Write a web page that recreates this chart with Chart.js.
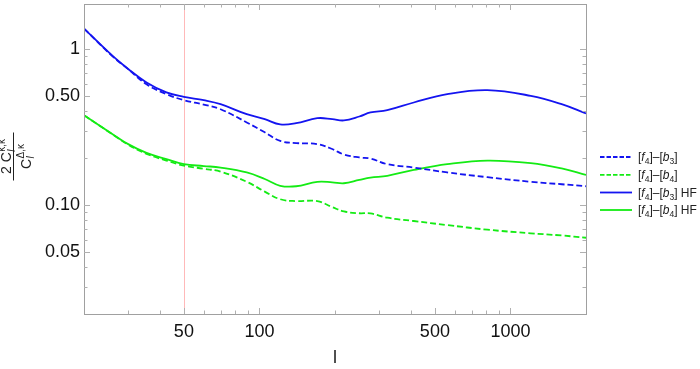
<html>
<head>
  <title>Ratio of spectra</title>
  <script src="https://cdn.jsdelivr.net/npm/chart.js"></script>
  <style>
    body { margin: 0; background: #fff; }
    #wrap { width: 700px; height: 369px; }
  </style>
</head>
<body>
  <div id="wrap"><canvas id="myChart" width="700" height="369"></canvas></div>

  <script>
    var ell = [20, 26, 30, 35.5, 42.6, 50, 60, 70, 89, 105, 121, 140, 170, 195, 217, 250, 277, 323, 412, 560, 809, 1205, 1600, 2000];

    var blueDashed = [1.357, 0.90, 0.745, 0.595, 0.515, 0.471, 0.441, 0.412, 0.339, 0.293, 0.258, 0.25, 0.246, 0.229, 0.211, 0.202, 0.199, 0.183, 0.174, 0.162, 0.151, 0.141, 0.136, 0.132];
    var greenDashed = [0.377, 0.284, 0.244, 0.213, 0.193, 0.179, 0.171, 0.164, 0.141, 0.122, 0.109, 0.106, 0.106, 0.097, 0.091, 0.0886, 0.0885, 0.083, 0.079, 0.0744, 0.0695, 0.0659, 0.0638, 0.0617];
    var blueHF = [1.357, 0.906, 0.747, 0.612, 0.528, 0.495, 0.471, 0.444, 0.383, 0.356, 0.329, 0.335, 0.361, 0.356, 0.349, 0.370, 0.393, 0.406, 0.455, 0.515, 0.546, 0.502, 0.444, 0.387];
    var greenHF = [0.377, 0.285, 0.246, 0.216, 0.197, 0.183, 0.178, 0.174, 0.162, 0.147, 0.133, 0.132, 0.141, 0.140, 0.138, 0.145, 0.150, 0.154, 0.168, 0.183, 0.193, 0.186, 0.172, 0.156];

    // legend entries: b index and HF flag
    var legendB = ["3", "4", "3", "4"];
    var legendHF = [false, false, true, true];

    // ticks
    var xMajor = [50, 100, 500, 1000];
    var xMajorLabels = ["50", "100", "500", "1000"];
    var xMinor = [30, 40, 60, 70, 80, 90, 200, 300, 400, 600, 700, 800, 900];
    var yMajor = [0.05, 0.1, 0.5, 1];
    var yMajorLabels = ["0.05", "0.10", "0.50", "1"];
    var yMinor = [0.03, 0.04, 0.06, 0.07, 0.08, 0.09, 0.2, 0.3, 0.4, 0.6, 0.7, 0.8, 0.9];

    var markerEll = 50;

    var BLUE = "rgb(20,20,240)";
    var GREEN = "rgb(20,235,20)";
    var FONT = "'Liberation Sans', Arial, sans-serif";

    function pts(arr) {
      return ell.map(function (x, i) { return { x: x, y: arr[i] }; });
    }

    function makeSet(arr, color, dashed) {
      return {
        data: pts(arr),
        borderColor: color,
        borderWidth: 1.8,
        borderDash: dashed ? [6, 3] : [],
        pointRadius: 0,
        fill: false,
        tension: 0.4
      };
    }

    // draw text with stacked sub/superscript, returns width
    function mathPiece(ctx, x, y, main, sub, sup, size, italicSub) {
      ctx.font = size + "px " + FONT;
      ctx.fillText(main, x, y);
      var w = ctx.measureText(main).width;
      var s = Math.round(size * 0.7);
      ctx.font = (italicSub ? "italic " : "") + s + "px " + FONT;
      var ws = sub ? ctx.measureText(sub).width : 0;
      if (sub) ctx.fillText(sub, x + w + 0.5, y + size * 0.25);
      ctx.font = s + "px " + FONT;
      var wp = sup ? ctx.measureText(sup).width : 0;
      if (sup) ctx.fillText(sup, x + w + 0.5, y - size * 0.45);
      return w + 0.5 + Math.max(ws, wp);
    }

    function measurePiece(ctx, main, sub, sup, size, italicSub) {
      ctx.font = size + "px " + FONT;
      var w = ctx.measureText(main).width;
      var s = Math.round(size * 0.7);
      ctx.font = (italicSub ? "italic " : "") + s + "px " + FONT;
      var ws = sub ? ctx.measureText(sub).width : 0;
      ctx.font = s + "px " + FONT;
      var wp = sup ? ctx.measureText(sup).width : 0;
      return w + 0.5 + Math.max(ws, wp);
    }

    function legendText(ctx, x, y, b, hf) {
      var size = 12;
      var parts = [
        ["[", ""], ["f", "i"], ["4", "s"], ["]\u2013[", ""], ["b", "i"], [b, "s"], ["]", ""]
      ];
      if (hf) parts.push([" HF", ""]);
      parts.forEach(function (p) {
        if (p[1] === "i") {
          ctx.font = "italic " + size + "px " + FONT;
          ctx.fillText(p[0], x, y);
        } else if (p[1] === "s") {
          ctx.font = "8.5px " + FONT;
          ctx.fillText(p[0], x, y + 3);
        } else {
          ctx.font = size + "px " + FONT;
          ctx.fillText(p[0], x, y);
        }
        x += ctx.measureText(p[0]).width;
      });
    }

    function noPad(s) {
      s.paddingTop = 0; s.paddingBottom = 0; s.paddingLeft = 0; s.paddingRight = 0;
    }

    var decor = {
      id: "decor",
      beforeDatasetsDraw: function (chart) {
        var ctx = chart.ctx, a = chart.chartArea;
        var px = chart.scales.x.getPixelForValue(markerEll);
        ctx.save();
        ctx.strokeStyle = "rgb(255,185,185)";
        ctx.lineWidth = 1;
        ctx.beginPath();
        ctx.moveTo(Math.round(px) + 0.5, a.top);
        ctx.lineTo(Math.round(px) + 0.5, a.bottom);
        ctx.stroke();
        ctx.restore();
      },
      afterDraw: function (chart) {
        var ctx = chart.ctx, a = chart.chartArea;
        var xs = chart.scales.x, ys = chart.scales.y;
        ctx.save();
        // frame
        ctx.strokeStyle = "#a0a0a0";
        ctx.lineWidth = 1;
        ctx.strokeRect(a.left + 0.5, a.top + 0.5, a.right - a.left, a.bottom - a.top);
        // ticks on all sides
        function xt(v, len) {
          var p = Math.round(xs.getPixelForValue(v)) + 0.5;
          ctx.beginPath();
          ctx.moveTo(p, a.bottom); ctx.lineTo(p, a.bottom - len);
          ctx.moveTo(p, a.top); ctx.lineTo(p, a.top + len);
          ctx.stroke();
        }
        function yt(v, len) {
          var p = Math.round(ys.getPixelForValue(v)) + 0.5;
          ctx.beginPath();
          ctx.moveTo(a.left, p); ctx.lineTo(a.left + len, p);
          ctx.moveTo(a.right, p); ctx.lineTo(a.right - len, p);
          ctx.stroke();
        }
        ctx.strokeStyle = "#b0b0b0";
        xMajor.forEach(function (v) { xt(v, 6); });
        xMinor.forEach(function (v) { xt(v, 3.5); });
        yMajor.forEach(function (v) { yt(v, 6); });
        yMinor.forEach(function (v) { yt(v, 3.5); });

        // x title
        ctx.fillStyle = "#222";
        ctx.font = "18px " + FONT;
        ctx.textAlign = "center";
        ctx.textBaseline = "alphabetic";
        ctx.fillText("l", (a.left + a.right) / 2, 363);

        // y title: fraction, rotated
        ctx.save();
        ctx.translate(13.5, 156.5);
        ctx.rotate(-Math.PI / 2);
        ctx.textAlign = "left";
        ctx.fillStyle = "#222";
        var nw = measurePiece(ctx, "2 C", "l", "\u03BA,\u03BA", 14, true);
        mathPiece(ctx, -nw / 2, -2.5, "2 C", "l", "\u03BA,\u03BA", 14, true);
        ctx.strokeStyle = "#222";
        ctx.lineWidth = 1;
        ctx.beginPath();
        ctx.moveTo(-24, 0); ctx.lineTo(24, 0);
        ctx.stroke();
        var dw = measurePiece(ctx, "C", "l", "\u0394,\u03BA", 14, true);
        mathPiece(ctx, -dw / 2, 17, "C", "l", "\u0394,\u03BA", 14, true);
        ctx.restore();

        // legend
        var colors = [BLUE, GREEN, BLUE, GREEN];
        var ly = [157, 174.8, 192.5, 210];
        ctx.textAlign = "left";
        ctx.textBaseline = "alphabetic";
        for (var i = 0; i < 4; i++) {
          ctx.strokeStyle = colors[i];
          ctx.lineWidth = 1.8;
          ctx.setLineDash(legendHF[i] ? [] : [4.5, 2]);
          ctx.beginPath();
          ctx.moveTo(600, ly[i]); ctx.lineTo(632, ly[i]);
          ctx.stroke();
          ctx.setLineDash([]);
          ctx.fillStyle = "#222";
          legendText(ctx, 638, ly[i] + 4, legendB[i], legendHF[i]);
        }
        ctx.restore();
      }
    };

    var ctx = document.getElementById("myChart").getContext("2d");
    var chart = new Chart(ctx, {
      type: "line",
      data: {
        datasets: [
          makeSet(blueDashed, BLUE, true),
          makeSet(greenDashed, GREEN, true),
          makeSet(blueHF, BLUE, false),
          makeSet(greenHF, GREEN, false)
        ]
      },
      options: {
        responsive: false,
        animation: false,
        layout: { padding: { top: 4, right: 114, bottom: 0, left: 0 } },
        plugins: { legend: { display: false }, tooltip: { enabled: false } },
        scales: {
          x: {
            type: "logarithmic",
            min: 20,
            max: 2000,
            grid: { display: false, drawTicks: false },
            border: { display: false },
            afterBuildTicks: function (s) { s.ticks = xMajor.map(function (v) { return { value: v }; }); },
            afterFit: function (s) { s.height = 55; noPad(s); },
            ticks: {
              autoSkip: false,
              maxRotation: 0,
              padding: 7,
              color: "#111",
              font: { family: FONT, size: 18 },
              callback: function (v, i) { return xMajorLabels[i]; }
            }
          },
          y: {
            type: "logarithmic",
            min: 0.02,
            max: 1.95,
            grid: { display: false, drawTicks: false },
            border: { display: false },
            afterBuildTicks: function (s) { s.ticks = yMajor.map(function (v) { return { value: v }; }); },
            afterFit: function (s) { s.width = 84; noPad(s); },
            ticks: {
              autoSkip: false,
              padding: 4,
              color: "#111",
              font: { family: FONT, size: 18 },
              callback: function (v, i) { return yMajorLabels[i]; }
            }
          }
        }
      },
      plugins: [decor]
    });
  </script>
</body>
</html>
